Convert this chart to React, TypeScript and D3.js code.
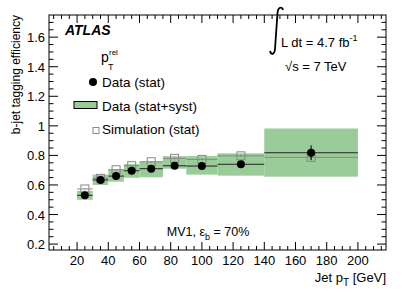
import React from 'react';
import * as d3 from 'd3';

// bin edges in jet pT [GeV]
const binLow = [20, 30, 40, 50, 60, 75, 90, 110, 140];
const binHigh = [30, 40, 50, 60, 75, 90, 110, 140, 200];
const dataEff = [0.53, 0.634, 0.66, 0.696, 0.71, 0.73, 0.728, 0.74, 0.818];
const dataStat = [0.012, 0.01, 0.01, 0.01, 0.01, 0.012, 0.015, 0.02, 0.05];
const bandLow = [0.5, 0.6, 0.622, 0.649, 0.652, 0.71, 0.67, 0.663, 0.656];
const bandHigh = [0.56, 0.67, 0.705, 0.741, 0.757, 0.795, 0.795, 0.814, 0.982];
const simEff = [0.573, 0.645, 0.703, 0.73, 0.757, 0.78, 0.773, 0.797, 0.787];
const simStat = [0.005, 0.005, 0.005, 0.005, 0.005, 0.006, 0.007, 0.01, 0.02];

const W = 407, H = 299;
const margin = { top: 15, right: 21, bottom: 49, left: 49 };
const font = '"Liberation Sans", Arial, sans-serif';
const green = '#99cc99';

export default function App() {
  const x = d3.scaleLinear().domain([2, 218]).range([margin.left, W - margin.right]);
  const y = d3.scaleLinear().domain([0.16, 1.75]).range([H - margin.bottom, margin.top]);
  const x0 = margin.left, x1 = W - margin.right, y0 = H - margin.bottom, y1 = margin.top;

  const xMajor = d3.range(20, 201, 20);
  const xMinor = d3.range(5, 218, 5);
  const yMajor = d3.range(0.2, 1.61, 0.2);
  const yMinor = d3.range(0.2, 1.75, 0.05);

  const bins = binLow.map((lo, i) => ({ lo, hi: binHigh[i], c: (lo + binHigh[i]) / 2, i }));

  return (
    <svg width={W} height={H} style={{ position: 'absolute', left: 0, top: 0, background: '#fff' }} fontFamily={font}>
      {/* syst bands */}
      {bins.map(b => (
        <rect key={'band' + b.i} x={x(b.lo)} width={x(b.hi) - x(b.lo)} y={y(bandHigh[b.i])}
          height={y(bandLow[b.i]) - y(bandHigh[b.i])} fill={green} />
      ))}
      {/* simulation */}
      {bins.map(b => (
        <g key={'sim' + b.i} stroke="#888" strokeWidth={1} fill="none">
          <line x1={x(b.lo)} x2={x(b.hi)} y1={y(simEff[b.i])} y2={y(simEff[b.i])} />
          <line x1={x(b.c)} x2={x(b.c)} y1={y(simEff[b.i] - simStat[b.i])} y2={y(simEff[b.i] + simStat[b.i])} />
          <rect x={x(b.c) - 4} y={y(simEff[b.i]) - 4} width={8} height={8} />
        </g>
      ))}
      {/* data */}
      {bins.map(b => (
        <g key={'dat' + b.i}>
          <line x1={x(b.lo)} x2={x(b.hi)} y1={y(dataEff[b.i])} y2={y(dataEff[b.i])} stroke="#222" />
          <line x1={x(b.c)} x2={x(b.c)} y1={y(dataEff[b.i] - dataStat[b.i])} y2={y(dataEff[b.i] + dataStat[b.i])} stroke="#000" />
          <circle cx={x(b.c)} cy={y(dataEff[b.i])} r={4} fill="#000" />
        </g>
      ))}

      {/* frame */}
      <rect x={x0} y={y1} width={x1 - x0} height={y0 - y1} fill="none" stroke="#000" strokeWidth={1} />
      {xMinor.map(v => {
        const big = xMajor.includes(v);
        const l = big ? 8 : 4;
        return (
          <g key={'xt' + v} stroke="#000">
            <line x1={x(v)} x2={x(v)} y1={y0} y2={y0 - l} />
            <line x1={x(v)} x2={x(v)} y1={y1} y2={y1 + l} />
          </g>
        );
      })}
      {yMinor.map((v, i) => {
        const big = i % 4 === 0;
        const l = big ? 9 : 4.5;
        return (
          <g key={'yt' + i} stroke="#000">
            <line x1={x0} x2={x0 + l} y1={y(v)} y2={y(v)} />
            <line x1={x1} x2={x1 - l} y1={y(v)} y2={y(v)} />
          </g>
        );
      })}
      {xMajor.map(v => (
        <text key={'xl' + v} x={x(v)} y={y0 + 15} fontSize={13} textAnchor="middle">{v}</text>
      ))}
      {yMajor.map((v, i) => (
        <text key={'yl' + i} x={x0 - 4} y={y(v) + 5} fontSize={13} textAnchor="end">{+v.toFixed(1)}</text>
      ))}

      {/* axis titles */}
      <text x={x1} y={282} fontSize={13} textAnchor="end">
        Jet p<tspan dy={4} fontSize={10}>T</tspan><tspan dy={-4}> [GeV]</tspan>
      </text>
      <text transform={`translate(20,${y1}) rotate(-90)`} fontSize={12} textAnchor="end">b-jet tagging efficiency</text>

      {/* labels */}
      <text x={65} y={35} fontSize={14} fontWeight="bold" fontStyle="italic">ATLAS</text>
      <text x={101} y={62} fontSize={14}>p</text>
      <text x={109} y={55} fontSize={8}>rel</text>
      <text x={108} y={70} fontSize={9}>T</text>

      <circle cx={93} cy={82} r={4} fill="#000" />
      <text x={102} y={87} fontSize={13.5}>Data (stat)</text>
      <rect x={74} y={101.5} width={23} height={7} fill={green} stroke="#000" strokeWidth={1} />
      <text x={102} y={111} fontSize={13.5}>Data (stat+syst)</text>
      <rect x={93} y={127.5} width={6} height={6} fill="none" stroke="#888" strokeWidth={1} />
      <text x={102} y={134} fontSize={13.5}>Simulation (stat)</text>

      <path d="M 283,10 C 282,6 278,7 277.5,13 L 275,49 C 274.5,55 271,55 270,51" fill="none" stroke="#000" strokeWidth={1.8} />
      <text x={281} y={47} fontSize={13}>L dt = 4.7 fb<tspan dy={-6} fontSize={9}>-1</tspan></text>
      <text x={285} y={71} fontSize={13}>√s = 7 TeV</text>

      <text x={208} y={236} fontSize={12.5} textAnchor="middle">MV1, ε<tspan dy={4} fontSize={9}>b</tspan><tspan dy={-4}> = 70%</tspan></text>
    </svg>
  );
}
